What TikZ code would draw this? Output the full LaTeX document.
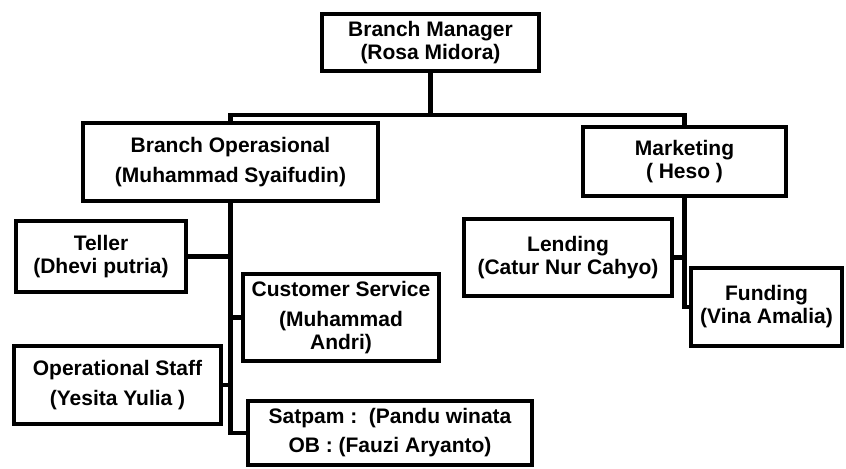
\documentclass[tikz,border=0pt]{standalone}
\usepackage{fontspec}
\setmainfont{Liberation Sans}
\begin{document}
\begin{tikzpicture}[x=0.5pt,y=-0.5pt,
  post/.style={draw=black, line width=2pt, align=center, inner sep=0pt, font=\fontsize{10.5}{11.5}\selectfont\bfseries},
  link/.style={draw=black, line width=2.2pt}]
\useasboundingbox (0,0) rectangle (846,469);
% boxes
\node[post, minimum width=108.5pt, minimum height=28.5pt] (bm) at (430.5,42.5) {Branch Manager\\(Rosa Midora)};
\node[post, minimum width=147.5pt, minimum height=39pt] (bo) at (230.5,162) {Branch Operasional\\[3.5pt](Muhammad Syaifudin)};
\node[post, minimum width=101.5pt, minimum height=34.5pt] (mk) at (684.5,161.5) {Marketing\\( Heso )};
\node[post, minimum width=85pt, minimum height=35.5pt] (teller) at (101,256.5) {Teller\\(Dhevi putria)};
\node[post, minimum width=98pt, minimum height=43.5pt] (cs) at (341,317.5) {Customer Service\\[3.5pt](Muhammad\\Andri)};
\node[post, minimum width=103.5pt, minimum height=39pt] (os) at (117.5,385) {Operational Staff\\[3.5pt](Yesita Yulia )};
\node[post, minimum width=142pt, minimum height=32pt] (satpam) at (390,433) {Satpam :\ \ (Pandu winata\\[3pt]OB : (Fauzi Aryanto)};
\node[post, minimum width=104pt, minimum height=38.5pt] (lending) at (568,257.5) {Lending\\(Catur Nur Cahyo)};
\node[post, minimum width=75.5pt, minimum height=39pt] (funding) at (766.5,307) {Funding\\(Vina Amalia)};
% lines
\coordinate (bus) at (430.5,115);
\draw[link] (bm.south) -- (bus);
\draw[link] (bo.north) |- (bus) -| (mk.north);
\draw[link] (bo.south) |- (satpam.west);
\draw[link] (teller.east) -- (teller.east -| bo.south);
\draw[link] (cs.west) -- (cs.west -| bo.south);
\draw[link] (os.east) -- (os.east -| bo.south);
\draw[link] (mk.south) |- (funding.west);
\draw[link] (lending.east) -- (lending.east -| mk.south);
\end{tikzpicture}
\end{document}
